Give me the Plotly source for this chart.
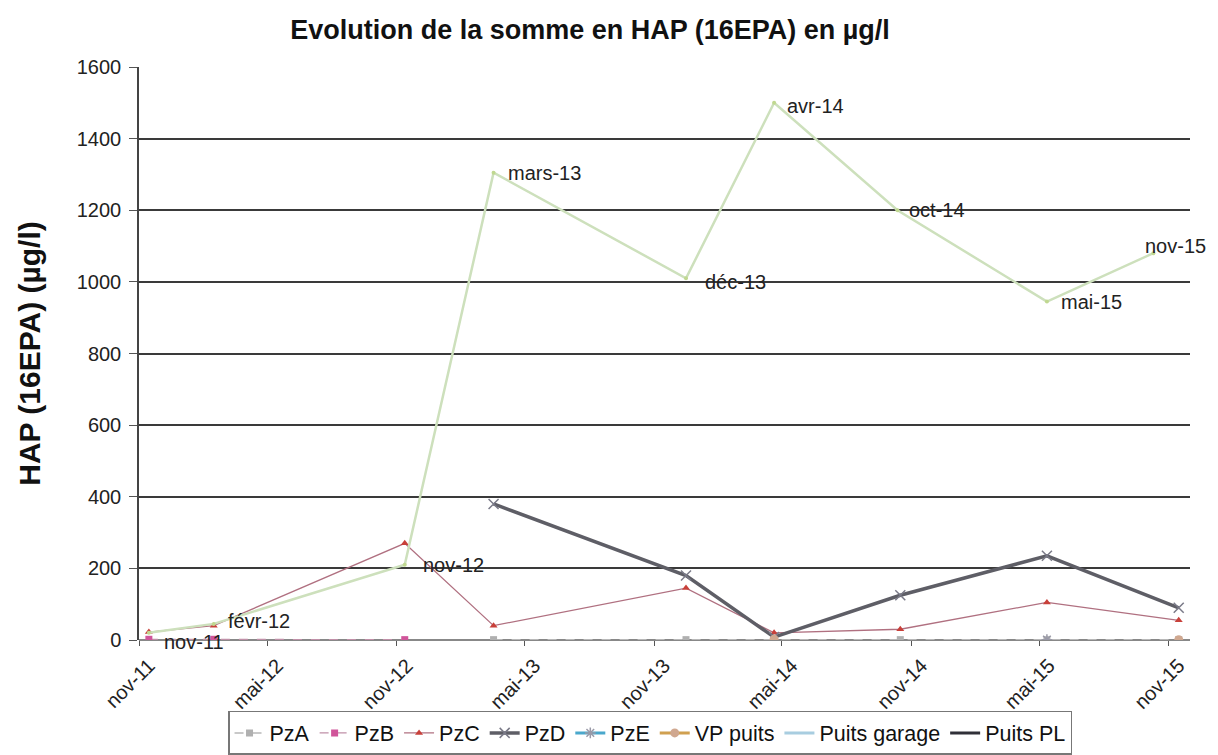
import plotly.graph_objects as go

# Sampling dates
dates_all = ["2011-11-15", "2012-02-15", "2012-11-12", "2013-03-18", "2013-12-16",
             "2014-04-20", "2014-10-16", "2015-05-12", "2015-11-15"]
dates_somme = ["2011-11-15", "2012-02-15", "2012-11-12", "2013-03-18", "2013-12-16",
               "2014-04-20", "2014-10-12", "2015-05-12", "2015-10-10"]
date_labels = ["nov-11", "févr-12", "nov-12", "mars-13", "déc-13", "avr-14", "oct-14", "mai-15", "nov-15"]

# Series values (µg/l)
somme = [20, 45, 210, 1305, 1010, 1500, 1200, 945, 1080]
pzA = [None, None, None, 1, 1, 1, 1, 1, 1]
pzB = [2, 2, 1, None, None, None, None, None, None]
pzC = [22, 40, 270, 40, 145, 20, 30, 105, 55]
pzD = [None, None, None, 380, 180, 8, 125, 235, 90]
pzE = [None, None, None, None, None, None, None, 1, None]
vp_puits = [None, None, None, None, None, 2, None, None, 1]
puits_garage = [None] * 9
puits_pl = [None] * 9

tick_vals = ["2011-11-01", "2012-05-01", "2012-11-01", "2013-05-01", "2013-11-01",
             "2014-05-01", "2014-11-01", "2015-05-01", "2015-11-01"]
tick_text = ["nov-11", "mai-12", "nov-12", "mai-13", "nov-13", "mai-14", "nov-14", "mai-15", "nov-15"]

# label offsets (px) for the data labels of the sum series
label_dx = [13, 12, 16, 12, 17, 11, 10, 12, -10]
label_dy = [-9, 3, 0, 0, -4, -3, 0, 0, 7]

FONT = "Liberation Sans, Arial"

fig = go.Figure()

fig.add_trace(go.Scatter(x=dates_all, y=pzA, name="PzA", mode="lines+markers",
                         line=dict(color="#b8b8b8", width=1.5, dash="dash"),
                         marker=dict(symbol="square", size=7, color="#b0b0b0")))
fig.add_trace(go.Scatter(x=dates_all, y=pzB, name="PzB", mode="lines+markers",
                         line=dict(color="#c090a8", width=1.2, dash="dash"),
                         marker=dict(symbol="square", size=7, color="#d0559a")))
fig.add_trace(go.Scatter(x=dates_all, y=pzC, name="PzC", mode="lines+markers",
                         line=dict(color="#b07080", width=1.3),
                         marker=dict(symbol="triangle-up", size=7, color="#c8403a")))
fig.add_trace(go.Scatter(x=dates_all, y=pzD, name="PzD", mode="lines+markers",
                         line=dict(color="#5e5e66", width=3.5),
                         marker=dict(symbol="x-thin", size=10, color="#7a7a88",
                                     line=dict(width=1.5, color="#7a7a88"))))
fig.add_trace(go.Scatter(x=dates_all, y=pzE, name="PzE", mode="lines+markers",
                         line=dict(color="#4aa8cc", width=3),
                         marker=dict(symbol="asterisk", size=9, color="#9a9aa8",
                                     line=dict(width=1.5, color="#9a9aa8"))))
fig.add_trace(go.Scatter(x=dates_all, y=vp_puits, name="VP puits", mode="lines+markers",
                         line=dict(color="#d0a050", width=3),
                         marker=dict(symbol="circle", size=9, color="#d0a890")))
fig.add_trace(go.Scatter(x=dates_all, y=puits_garage, name="Puits garage", mode="lines",
                         line=dict(color="#a8cde0", width=3)))
fig.add_trace(go.Scatter(x=dates_all, y=puits_pl, name="Puits PL", mode="lines",
                         line=dict(color="#303038", width=3)))
fig.add_trace(go.Scatter(x=dates_somme, y=somme, name="Somme", mode="lines+markers",
                         showlegend=False,
                         line=dict(color="#cde0bc", width=2.5),
                         marker=dict(symbol="circle", size=4, color="#c0d890")))

for xd, yv, lab, dx, dy in zip(dates_somme, somme, date_labels, label_dx, label_dy):
    fig.add_annotation(x=xd, y=yv, text=lab, showarrow=False,
                       xanchor="left", yanchor="middle", xshift=dx, yshift=dy,
                       font=dict(family=FONT, size=20, color="#222222"))

fig.update_layout(
    width=1210, height=747,
    paper_bgcolor="white", plot_bgcolor="white",
    margin=dict(l=131, r=28, t=59, b=115, autoexpand=False),
    title=dict(text="<b>Evolution de la somme en HAP (16EPA) en µg/l</b>",
               x=0.481, xanchor="center", y=0.9705, yanchor="middle",
               font=dict(family=FONT, size=27, color="#111111")),
    font=dict(family=FONT, size=18, color="#222222"),
    showlegend=True,
    legend=dict(orientation="h", xref="container", yref="container",
                x=0.5306, xanchor="center", y=0.0590, yanchor="top",
                bordercolor="#777777", borderwidth=1.5, bgcolor="white",
                font=dict(family=FONT, size=21.5, color="#111111"),
                itemwidth=30, tracegroupgap=0),
)

fig.update_xaxes(
    type="date", range=["2011-11-01", "2015-12-01"],
    tickmode="array", tickvals=tick_vals, ticktext=tick_text,
    tickangle=-45, ticks="outside", ticklen=5, tickcolor="#555555",
    ticklabelshift=10, automargin=False,
    showgrid=False, showline=False, zeroline=False,
    tickfont=dict(family=FONT, size=20, color="#222222"),
)
fig.update_yaxes(
    range=[0, 1600], dtick=200, automargin=False,
    showgrid=True, gridcolor="#3a3a3a", gridwidth=1.5,
    showline=True, linecolor="#444444", linewidth=1.5,
    ticks="outside", ticklen=8, tickcolor="#555555", ticklabelstandoff=4,
    zeroline=True, zerolinecolor="#888888", zerolinewidth=1.5,
    tickfont=dict(family=FONT, size=20, color="#222222"),
    title=dict(text="<b>HAP (16EPA) (µg/l)</b>", standoff=27,
               font=dict(family=FONT, size=30, color="#111111")),
)

fig.write_html("out.html")
